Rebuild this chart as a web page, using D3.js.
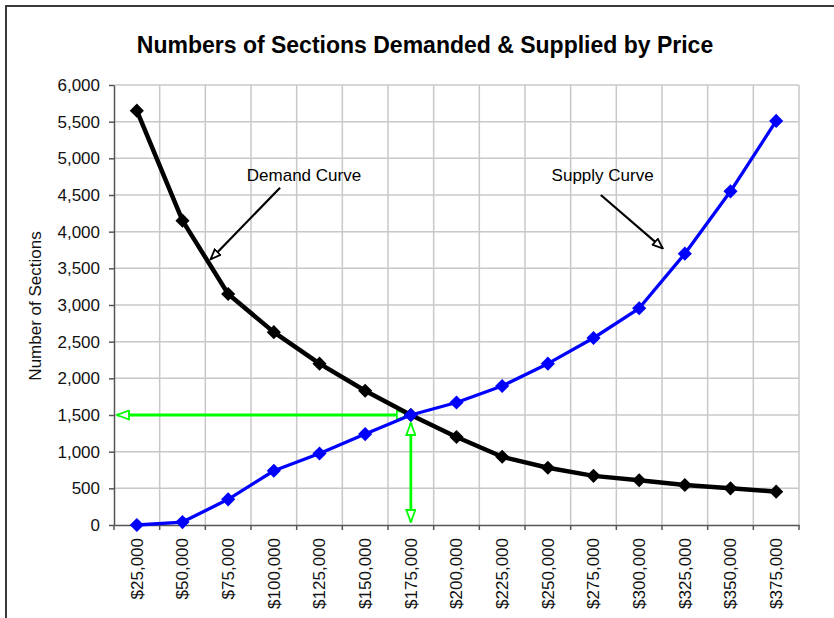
<!DOCTYPE html>
<html><head><meta charset="utf-8">
<script src="https://cdn.jsdelivr.net/npm/d3@7"></script>
<style>
html,body{margin:0;padding:0;background:#fff;}
svg{display:block;font-family:"Liberation Sans",Arial,sans-serif;}
</style></head>
<body>
<svg id="chart" width="834" height="618"></svg>
<script>
// ---- data ----
const prices = [25000,50000,75000,100000,125000,150000,175000,200000,225000,250000,275000,300000,325000,350000,375000];
const demand = [5650,4150,3150,2630,2200,1830,1500,1200,930,780,670,610,545,500,455];
const supply = [0,40,350,740,975,1240,1500,1670,1895,2200,2550,2955,3700,4550,5510];
const yTicks = [0,500,1000,1500,2000,2500,3000,3500,4000,4500,5000,5500,6000];
const titleText = "Numbers of Sections Demanded & Supplied by Price";
const yTitle = "Number of Sections";
const equilibrium = {price:175000, qty:1500};
// annotations in data units: text position, arrow start, arrow end
const annotations = [
  {label:"Demand Curve", tx:116500, ty:4773, x1:103400, y1:4600, x2:65400, y2:3623},
  {label:"Supply Curve", tx:280000, ty:4773, x1:279000, y1:4500, x2:312900, y2:3773}
];

const svg = d3.select("#chart");
const L=114, R=799, T=85, B=525;
const fmtPrice = d => "$" + d3.format(",")(d);

const x = d3.scaleBand().domain(prices).range([L,R]).paddingInner(0).paddingOuter(0);
const xLin = d3.scaleLinear().domain([prices[0]-12500, prices[prices.length-1]+12500]).range([L,R]);
const y = d3.scaleLinear().domain([0,6000]).range([B,T]);
const cx = d => x(d) + x.bandwidth()/2;

// background
svg.append("rect").attr("width",834).attr("height",618).attr("fill","#fff");
// outer frame (only top/left visible)
svg.append("rect").attr("x",6).attr("y",6).attr("width",900).attr("height",800)
  .attr("fill","none").attr("stroke","#3a3a3a").attr("stroke-width",2);

// title
svg.append("text").attr("x",425).attr("y",53).attr("text-anchor","middle")
  .attr("font-size",23).attr("font-weight","bold").attr("fill","#000").text(titleText);

// gridlines
const grid = svg.append("g");
grid.selectAll("line.h").data(yTicks.filter(d=>d>0)).join("line")
  .attr("x1",L).attr("x2",R).attr("y1",d=>y(d)).attr("y2",d=>y(d))
  .attr("stroke","#c8c8c8").attr("stroke-width",1.5);
const bounds = prices.map(p=>x(p)).concat([R]).slice(1);
grid.selectAll("line.v").data(bounds).join("line")
  .attr("x1",d=>d).attr("x2",d=>d).attr("y1",T).attr("y2",B)
  .attr("stroke","#c8c8c8").attr("stroke-width",1.5);

// y axis
const yAxis = svg.append("g").attr("transform",`translate(${L},0)`)
  .call(d3.axisLeft(y).tickValues(yTicks).tickFormat(d3.format(",")).tickSize(5).tickPadding(9).tickSizeOuter(0));
yAxis.select(".domain").attr("stroke","#555").attr("stroke-width",1.5);
yAxis.selectAll(".tick line").attr("stroke","#555").attr("stroke-width",1.5);
yAxis.selectAll(".tick text").attr("font-size",17).attr("fill","#111")
  .attr("font-family","'Liberation Sans',Arial,sans-serif");

// x axis
const xAxis = svg.append("g").attr("transform",`translate(0,${B})`)
  .call(d3.axisBottom(x).tickFormat(fmtPrice).tickSize(0).tickSizeOuter(0));
xAxis.select(".domain").attr("stroke","#555").attr("stroke-width",1.5);
xAxis.selectAll(".tick text").attr("font-size",17).attr("fill","#111")
  .attr("font-family","'Liberation Sans',Arial,sans-serif")
  .attr("text-anchor","end").attr("transform","rotate(-90)")
  .attr("x",-13).attr("y",0).attr("dy","0.35em");
// tick marks at band boundaries
svg.append("g").selectAll("line").data(prices.map(p=>x(p)).concat([R])).join("line")
  .attr("x1",d=>d).attr("x2",d=>d).attr("y1",B).attr("y2",B+5)
  .attr("stroke","#555").attr("stroke-width",1.5);

// y axis title
svg.append("text").attr("transform",`translate(41,${(T+B)/2+1}) rotate(-90)`)
  .attr("text-anchor","middle").attr("font-size",17).attr("fill","#111").text(yTitle);

// arrow markers
const defs = svg.append("defs");
function marker(id,color,w,h){
  defs.append("marker").attr("id",id).attr("viewBox",`0 0 ${w} ${h}`).attr("refX",w-1).attr("refY",h/2)
    .attr("markerWidth",w).attr("markerHeight",h).attr("markerUnits","userSpaceOnUse").attr("orient","auto-start-reverse")
    .append("path").attr("d",`M1,1 L${w-1},${h/2} L1,${h-1} Z`).attr("fill","#fff").attr("stroke",color).attr("stroke-width",1.8);
}
marker("arrG","#00ff00",14,11);
marker("arrK","#000",12,10);

// equilibrium arrows (green)
const ex = cx(equilibrium.price), ey = y(equilibrium.qty);
svg.append("line").attr("x1",ex-2).attr("y1",ey).attr("x2",L+3).attr("y2",ey)
  .attr("stroke","#00ff00").attr("stroke-width",2.8)
  .attr("marker-start","url(#arrG)").attr("marker-end","url(#arrG)");
svg.append("line").attr("x1",ex).attr("y1",ey+8).attr("x2",ex).attr("y2",y(0)-3)
  .attr("stroke","#00ff00").attr("stroke-width",2.8)
  .attr("marker-start","url(#arrG)").attr("marker-end","url(#arrG)");

// series
const line = d3.line().x((d,i)=>cx(prices[i])).y(d=>y(d));
const diamond = d3.symbol().type(d3.symbolSquare).size(100);
function series(vals,color,w){
  const g = svg.append("g");
  g.append("path").datum(vals).attr("d",line).attr("fill","none").attr("stroke",color)
    .attr("stroke-width",w).attr("stroke-linejoin","round");
  g.selectAll("path.m").data(vals).join("path").attr("class","m")
    .attr("d",diamond).attr("fill",color)
    .attr("transform",(d,i)=>`translate(${cx(prices[i])},${y(d)}) rotate(45)`);
}
series(demand,"#000",4.5);
series(supply,"#0000ff",3.3);

// annotations
annotations.forEach(a=>{
  svg.append("text").attr("x",xLin(a.tx)).attr("y",y(a.ty)).attr("dy","0.35em")
    .attr("text-anchor","middle").attr("font-size",17).attr("fill","#000").text(a.label);
  svg.append("line").attr("x1",xLin(a.x1)).attr("y1",y(a.y1)).attr("x2",xLin(a.x2)).attr("y2",y(a.y2))
    .attr("stroke","#000").attr("stroke-width",2.2).attr("marker-end","url(#arrK)");
});
</script>
</body></html>
